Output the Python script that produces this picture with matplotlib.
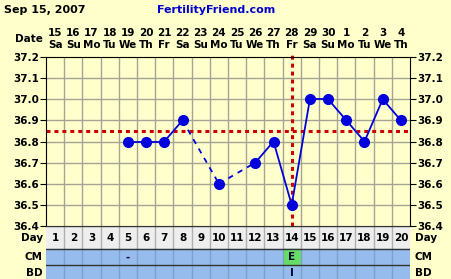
import numpy as np
import matplotlib.pyplot as plt

days = list(range(1, 21))
dates = ['15', '16', '17', '18', '19', '20', '21', '22', '23', '24',
         '25', '26', '27', '28', '29', '30', '1', '2', '3', '4']
weekdays = ['Sa', 'Su', 'Mo', 'Tu', 'We', 'Th', 'Fr', 'Sa', 'Su', 'Mo',
            'Tu', 'We', 'Th', 'Fr', 'Sa', 'Su', 'Mo', 'Tu', 'We', 'Th']
temp_days = [5, 6, 7, 8, 10, 12, 13, 14, 15, 16, 17, 18, 19, 20]
temps = [36.8, 36.8, 36.8, 36.9, 36.6, 36.7, 36.8, 36.5, 37.0, 37.0, 36.9, 36.8, 37.0, 36.9]
coverline = 36.85
ovulation_day = 14
cm_marks = {5: '-', 14: 'E'}
bd_marks = {14: 'I'}

W, H = 452, 279
BG = '#FFFFCC'
BLUE = '#0000DD'
RED = '#CC0000'
GRID = '#A4A494'
ROW = '#95BCEC'

def box(l, t, r, b):
    return [l / W, 1 - b / H, (r - l) / W, (b - t) / H]

fig = plt.figure(figsize=(W / 100, H / 100), dpi=100, facecolor=BG)
font = dict(family='DejaVu Sans', weight='bold', fontsize=7.5)

# main temperature chart
ax = fig.add_axes(box(46, 57, 410, 226))
ax.set_facecolor(BG)
ax.set_xlim(0.5, 20.5)
ax.set_ylim(36.4, 37.2)
for d in np.arange(1.5, 20.5, 1):
    ax.axvline(d, color=GRID, lw=1, zorder=1)
yt = np.round(np.arange(36.4, 37.21, 0.1), 1)
for y in yt[1:-1]:
    ax.axhline(y, color=GRID, lw=1, zorder=1)
ax.set_xticks([])
ax.set_yticks(yt)
ax.set_yticklabels(['%.1f' % y for y in yt], **font)
ax.tick_params(axis='y', left=True, right=True, labelleft=True, labelright=True,
               length=4, width=0.8, color='black', pad=1)
for s in ax.spines.values():
    s.set_color('black')
    s.set_linewidth(0.8)

# coverline and ovulation line
ax.axhline(coverline, color=RED, lw=2.2, ls=(0, (1.3, 1.3)), zorder=2)
ax.plot([ovulation_day, ovulation_day], [36.4, 37.225], color=RED, lw=2.2,
        ls=(0, (1.3, 1.3)), zorder=2, clip_on=False)

# temperature line
for i in range(len(temp_days) - 1):
    x0, x1 = temp_days[i], temp_days[i + 1]
    style = '-' if x1 - x0 == 1 else (0, (3, 3))
    ax.plot([x0, x1], [temps[i], temps[i + 1]], color=BLUE, lw=1.3, ls=style, zorder=3)
ax.plot(temp_days, temps, 'o', color=BLUE, ms=7, zorder=4)

# header text
title_font = dict(font, fontsize=8)
fig.text(4 / W, 1 - 10 / H, 'Sep 15, 2007', ha='left', va='center', color='black', **title_font)
fig.text(157 / W, 1 - 10 / H, 'FertilityFriend.com', ha='left', va='center', color='#0000CC', **title_font)
fig.text(43 / W, 1 - 39 / H, 'Date', ha='right', va='center', color='black', **font)
for d, dt, wd in zip(days, dates, weekdays):
    xf = (46 + (d - 0.5) * 364 / 20) / W
    fig.text(xf, 1 - 33 / H, dt, ha='center', va='center', **font)
    fig.text(xf, 1 - 45 / H, wd, ha='center', va='center', **font)

# table rows below
tb = fig.add_axes(box(46, 226, 410, 279))
tb.set_xlim(0.5, 20.5)
tb.set_ylim(53, 0)
tb.axis('off')
tb.axhspan(0, 23, color='#EEEEEE', zorder=0)
tb.axhspan(23, 53, color=ROW, zorder=0)
tb.add_patch(plt.Rectangle((13.5, 23), 1, 16, color='#66DD66', zorder=1))
for d in np.arange(1.5, 20.5, 1):
    tb.plot([d, d], [0, 23], color='#B0B0B0', lw=1, zorder=2)
    tb.plot([d, d], [23, 53], color='#7FA0CC', lw=1, zorder=2)
for y in [0, 23, 39]:
    tb.plot([0.5, 20.5], [y, y], color='#333333', lw=1, zorder=3)
for d in days:
    tb.text(d, 12, str(d), ha='center', va='center', **font)
for d, m in cm_marks.items():
    tb.text(d, 31.5, m, ha='center', va='center', color='#000033', **font)
for d, m in bd_marks.items():
    tb.text(d, 46.5, m, ha='center', va='center', color='#000033', **font)
for lab, y in [('Day', 12), ('CM', 31.5), ('BD', 46.5)]:
    fig.text(43 / W, 1 - (226 + y) / H, lab, ha='right', va='center', **font)
    fig.text(415 / W, 1 - (226 + y) / H, lab, ha='left', va='center', **font)

fig.savefig('out.png', dpi=100, facecolor=BG)
